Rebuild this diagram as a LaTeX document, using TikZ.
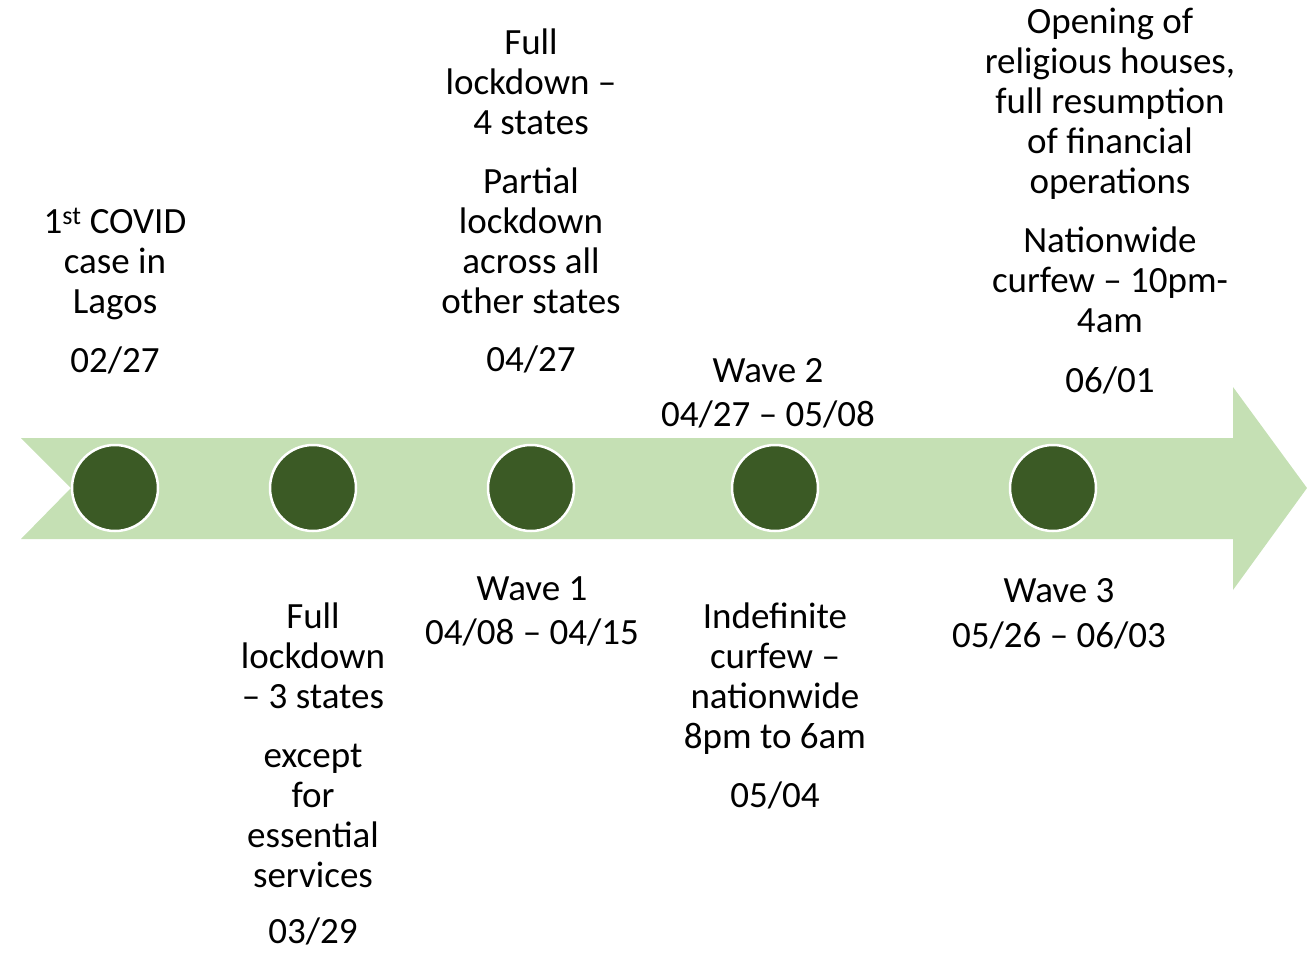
\documentclass[tikz,border=0pt]{standalone}
\usepackage{fontspec}
\setmainfont{Carlito}
\usetikzlibrary{positioning}
\definecolor{bandgreen}{HTML}{C5E0B4}
\definecolor{dotgreen}{HTML}{3B5A25}
\tikzset{
  dot/.style={circle, fill=dotgreen, draw=white, line width=2.5pt, minimum size=86pt, inner sep=0pt},
  lbl/.style={align=center, inner sep=0pt, anchor=north, font=\fontsize{37}{40}\selectfont}
}

\begin{document}
\begin{tikzpicture}[x=1pt, y=-1pt]
	\useasboundingbox (0,0) rectangle (1307,953);
	% Band and arrow head:
	\fill[bandgreen] (21,438) -- (1233,438) -- (1233,387) -- (1307,488) -- (1233,590) -- (1233,539) -- (21,539) -- (71,488) -- cycle;
	% Dots on the band:
	\node[dot] (d1) at (115,488) {};
	\node[dot] (d2) at (313,488) {};
	\node[dot] (d3) at (531,488) {};
	\node[dot] (d4) at (775,488) {};
	\node[dot] (d5) at (1053,488) {};
	% Labels above:
	\node[lbl] (caseLagos) at (115,208) {1\textsuperscript{st} COVID\\case in\\Lagos\\[19pt]02/27};
	\node[lbl] (lockFour) at (531,29) {Full\\lockdown --\\4 states\\[19pt]Partial\\lockdown\\across all\\other states\\[18pt]04/27};
	\node[lbl] (waveTwo) at (768,358) {Wave 2\\[4pt]04/27 -- 05/08};
	\node[lbl] (opening) at (1110,8) {Opening of\\religious houses,\\full resumption\\of financial\\operations\\[19pt]Nationwide\\curfew -- 10pm-\\4am\\[20pt]06/01};
	% Labels below:
	\node[lbl] (lockThree) at (313,603) {Full\\lockdown\\-- 3 states\\[19pt]except\\for\\essential\\services\\[16pt]03/29};
	\node[lbl] (waveOne) at (532,576) {Wave 1\\[4pt]04/08 -- 04/15};
	\node[lbl] (curfew) at (775,603) {Indefinite\\curfew --\\nationwide\\8pm to 6am\\[19pt]05/04};
	\node[lbl] (waveThree) at (1059,578) {Wave 3\\[5pt]05/26 -- 06/03};
\end{tikzpicture}
\end{document}
